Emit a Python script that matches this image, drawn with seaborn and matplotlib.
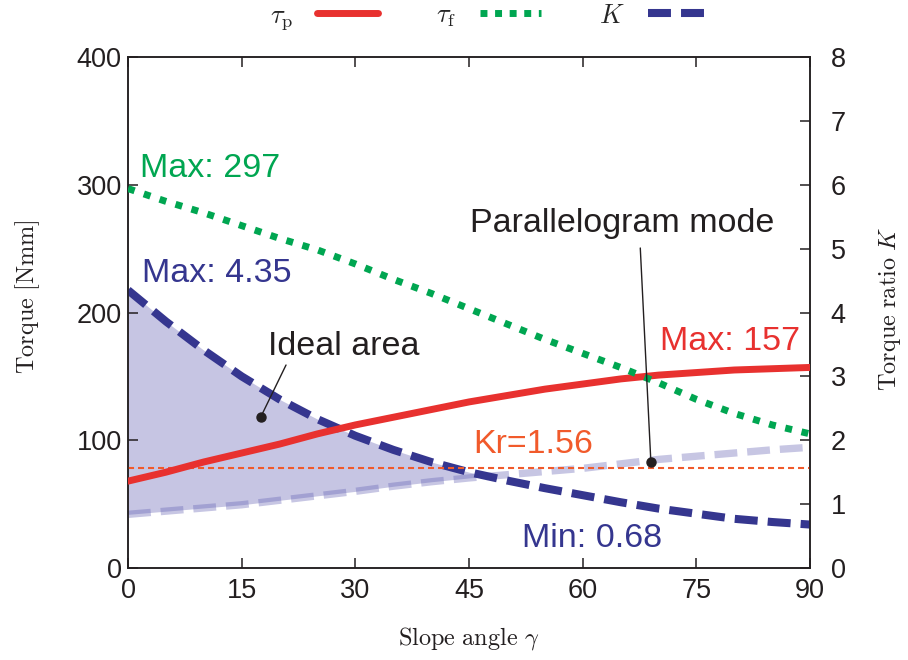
import matplotlib
matplotlib.use("Agg")
import matplotlib.pyplot as plt
import pandas as pd
import seaborn as sns
from matplotlib.lines import Line2D

# Slope angle samples (deg)
angle = [0, 5, 10, 15, 20, 25, 30, 35, 40, 45, 50, 55, 60, 65, 70, 75, 80, 85, 90]
# Torques [Nmm]
tau_p = [68, 75, 83, 90, 97, 105, 112, 118, 124, 130, 135, 140, 144, 148, 151, 153, 155, 156, 157]
tau_f = [297, 287, 278, 268, 258, 249, 238, 226, 215, 203, 191, 179, 168, 157, 145, 132, 121, 112, 105]
# Torque ratio K and the parallelogram-mode ratio
k_ratio = [4.35, 3.86, 3.41, 3.00, 2.64, 2.33, 2.07, 1.85, 1.66, 1.50, 1.37, 1.25, 1.14, 1.03, 0.93, 0.85, 0.77, 0.72, 0.68]
k_parallel = [0.84, 0.89, 0.94, 0.99, 1.06, 1.13, 1.20, 1.28, 1.35, 1.41, 1.46, 1.51, 1.56, 1.63, 1.70, 1.75, 1.80, 1.85, 1.89]
k_r = 1.56

left_ticks = [0, 100, 200, 300, 400]
right_ticks = [0, 1, 2, 3, 4, 5, 6, 7, 8]
x_ticks = [0, 15, 30, 45, 60, 75, 90]

df = pd.DataFrame({"angle": angle, "tau_p": tau_p, "tau_f": tau_f,
                   "k": k_ratio, "k_par": k_parallel})

RED = "#e8312f"
GREEN = "#00a651"
NAVY = "#35368f"
ORANGE = "#f15a2b"
LAV_FILL = "#c6c5e3"
DARK = "#231f20"

sns.set_theme(style="ticks")
plt.rcParams["font.family"] = ["Liberation Sans", "DejaVu Sans"]
plt.rcParams["mathtext.fontset"] = "cm"
plt.rcParams["axes.edgecolor"] = DARK
plt.rcParams["xtick.color"] = DARK
plt.rcParams["ytick.color"] = DARK

fig = plt.figure(figsize=(9.08, 6.6), dpi=100)
ax = fig.add_axes([0.141, 0.1394, 0.7511, 0.7742])
ax2 = ax.twinx()
ax.set_zorder(2)
ax.patch.set_visible(False)

# --- ratio axis: ideal area, parallelogram mode, K, Kr ---
kk = df["k"].to_numpy()
kp = df["k_par"].to_numpy()
ax2.fill_between(df["angle"], kp, kk, where=kk >= kp, interpolate=True,
                 color=LAV_FILL, lw=0, zorder=1)
sns.lineplot(data=df, x="angle", y="k_par", ax=ax2, color="#6462b4", alpha=0.36,
             lw=5.3, linestyle=(0, (3.1, 1.35)), dash_capstyle="butt", zorder=2)
sns.lineplot(data=df, x="angle", y="k", ax=ax2, color=NAVY,
             lw=5.8, linestyle=(0, (2.85, 1.25)), dash_capstyle="butt", zorder=3)
ax2.axhline(k_r, color=ORANGE, lw=1.5, linestyle=(0, (2.9, 1.9)), zorder=4)

# --- torque axis ---
sns.lineplot(data=df, x="angle", y="tau_p", ax=ax, color=RED, lw=5.0, zorder=3)
sns.lineplot(data=df, x="angle", y="tau_f", ax=ax, color=GREEN,
             lw=5.0, linestyle=(0, (1.0, 1.4)), dash_capstyle="butt", zorder=4)

ax.set_xlim(0, 90)
ax.set_ylim(0, 400)
ax2.set_ylim(0, 8)
ax.set_xticks(x_ticks)
ax.set_yticks(left_ticks)
ax2.set_yticks(right_ticks)
ax.set_xlabel("")
ax.set_ylabel("")
ax2.set_ylabel("")

for a in (ax, ax2):
    for s in a.spines.values():
        s.set_linewidth(1.1)
        s.set_visible(True)
ax.tick_params(axis="both", direction="in", length=7, width=1.1, labelsize=19.5,
               top=True, right=False)
ax.tick_params(axis="y", pad=4.5)
ax.tick_params(axis="x", pad=7)
ax2.tick_params(axis="y", direction="in", length=7, width=1.1, labelsize=19.5, pad=15)

# --- value labels ---
fs = 24.5
ax.text(1.6, 306, f"Max: {max(tau_f)}", color=GREEN, fontsize=fs, va="baseline")
ax.text(1.85, 224, f"Max: {max(k_ratio):.2f}", color=NAVY, fontsize=fs, va="baseline")
ax.text(88.7, 170.6, f"Max: {max(tau_p)}", color=RED, fontsize=fs, va="baseline", ha="right")
ax.text(45.5, 90, f"Kr={k_r:.2f}", color=ORANGE, fontsize=fs, va="baseline")
ax.text(52.0, 16.7, f"Min: {min(k_ratio):.2f}", color=NAVY, fontsize=fs, va="baseline")
ax.text(18.5, 166.7, "Ideal area", color=DARK, fontsize=fs, va="baseline")
ax.text(45.1, 263, "Parallelogram mode", color=DARK, fontsize=fs, va="baseline")

# pointers
ax.plot([20.85, 17.5], [158.9, 118], color=DARK, lw=1.0, zorder=6)
ax.plot([17.5], [118], "o", color=DARK, ms=6.5, zorder=6)
ax.plot([67.6, 69.0], [250.5, 82.7], color=DARK, lw=1.0, zorder=6)
ax.plot([69.0], [82.7], "o", color=DARK, ms=6.5, zorder=6)

# --- axis titles ---
fig.text(27.5 / 908, 1 - 297 / 660, r"$\mathrm{Torque\ [Nmm]}$", rotation=90,
         ha="center", va="center", fontsize=17.5, color=DARK)
fig.text(890 / 908, 1 - 309 / 660, r"$\mathrm{Torque\ ratio}\ K$", rotation=90,
         ha="center", va="center", fontsize=17.5, color=DARK)
fig.text(469 / 908, 1 - 638 / 660, r"$\mathrm{Slope\ angle}\ \gamma$",
         ha="center", va="center", fontsize=17.5, color=DARK)

# --- legend ---
handles = [
    Line2D([], [], color=RED, lw=5.0),
    Line2D([], [], color=GREEN, lw=5.0, linestyle=(0, (1.0, 1.1)), dash_capstyle="butt"),
    Line2D([], [], color=NAVY, lw=5.8, linestyle=(0, (2.85, 1.25)), dash_capstyle="butt"),
]
labels = [r"$\tau_\mathrm{p}$", r"$\tau_\mathrm{f}$", r"$K$"]
fig.legend(handles, labels, loc="center", bbox_to_anchor=(0.539, 0.973), ncol=3,
           markerfirst=False, frameon=False, fontsize=19, handlelength=2.3,
           handletextpad=0.9, columnspacing=2.2)

fig.savefig("out.png", dpi=100)
